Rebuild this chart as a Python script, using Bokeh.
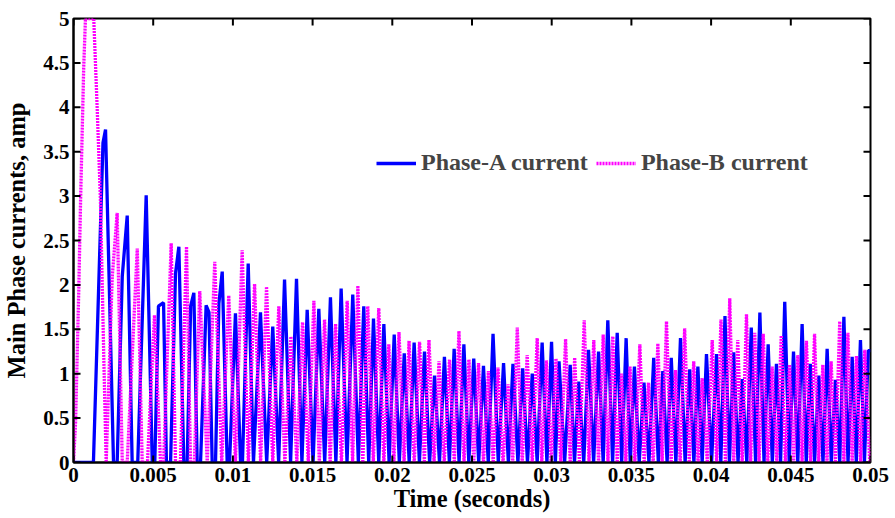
from bokeh.plotting import figure
from bokeh.models import FixedTicker, Range1d, Legend, LegendItem, ColumnDataSource
from bokeh.embed import file_html
from bokeh.resources import INLINE

# ---------------- data ----------------
# Phase-A current: peak (and shoulder) points, and times where the current is zero
a_peak_t = [0.00185, 0.00201, 0.00306, 0.00337, 0.00456, 0.00533, 0.00565, 0.00640, 0.00661, 0.00735,
            0.00755, 0.00832, 0.00850, 0.00912, 0.00933, 0.01016, 0.01096, 0.01173, 0.01250, 0.01324,
            0.01399, 0.01466, 0.01539, 0.01612, 0.01679, 0.01752, 0.01821, 0.01882, 0.01947, 0.02012,
            0.02075, 0.02137, 0.02202, 0.02265, 0.02327, 0.02388, 0.02449, 0.02511, 0.02572, 0.02632,
            0.02698, 0.02757, 0.02818, 0.02878, 0.02940, 0.02999, 0.03046, 0.03116, 0.03170, 0.03231,
            0.03294, 0.03352, 0.03411, 0.03467, 0.03519, 0.03579, 0.03640, 0.03697, 0.03750, 0.03808,
            0.03866, 0.03917, 0.03971, 0.04034, 0.04087, 0.04142, 0.04195, 0.04252, 0.04306, 0.04358,
            0.04410, 0.04462, 0.04517, 0.04571, 0.04622, 0.04676, 0.04728, 0.04780, 0.04833, 0.04885,
            0.04937, 0.04986, 0.05000]
a_peak_i = [3.60, 3.75, 2.10, 2.78, 3.01, 1.76, 1.80, 2.13, 2.43, 1.76,
            1.91, 1.77, 1.69, 1.79, 2.15, 1.68, 2.24, 1.69, 1.53, 2.06,
            2.07, 1.72, 1.73, 1.86, 1.96, 1.89, 1.76, 1.62, 1.56, 1.44,
            1.23, 1.35, 1.25, 0.98, 1.19, 1.28, 1.33, 1.17, 1.09, 1.45,
            1.12, 1.11, 1.06, 1.00, 1.35, 1.36, 1.14, 1.10, 0.91, 1.27,
            1.25, 1.60, 1.46, 1.40, 1.08, 0.90, 1.18, 1.03, 1.18, 1.40,
            1.05, 1.08, 1.22, 1.22, 1.65, 1.24, 0.94, 1.52, 1.69, 1.33,
            1.11, 1.81, 1.25, 1.56, 1.11, 0.98, 1.28, 0.93, 1.64, 1.19,
            1.38, 1.26, 1.26]
a_zero_t = [0.0, 0.00125, 0.00251, 0.00274, 0.00368, 0.00403, 0.00494, 0.00510, 0.00583, 0.00609,
            0.00692, 0.00713, 0.00776, 0.00797, 0.00870, 0.00891, 0.00964, 0.00979, 0.01048, 0.01060,
            0.01129, 0.01212, 0.01287, 0.01362, 0.01433, 0.01503, 0.01576, 0.01646, 0.01716, 0.01787,
            0.01852, 0.01915, 0.01980, 0.02044, 0.02106, 0.02170, 0.02234, 0.02296, 0.02358, 0.02419,
            0.02480, 0.02542, 0.02602, 0.02665, 0.02728, 0.02788, 0.02848, 0.02909, 0.02970, 0.03023,
            0.03081, 0.03143, 0.03201, 0.03263, 0.03323, 0.03382, 0.03439, 0.03493, 0.03549, 0.03610,
            0.03669, 0.03724, 0.03779, 0.03837, 0.03892, 0.03944, 0.04003, 0.04061, 0.04115, 0.04169,
            0.04224, 0.04279, 0.04332, 0.04384, 0.04436, 0.04490, 0.04544, 0.04597, 0.04649, 0.04702,
            0.04754, 0.04807, 0.04859, 0.04911, 0.04962]

# Phase-B current
b_peak_t = [0.00013, 0.00033, 0.00045, 0.00064, 0.00075, 0.00127, 0.00149, 0.00169, 0.00190, 0.00243,
            0.00274, 0.00400, 0.00508, 0.00613, 0.00709,
            0.00792, 0.00886, 0.00974, 0.01058, 0.01136, 0.01211, 0.01288, 0.01364, 0.01437, 0.01508,
            0.01575, 0.01644, 0.01717, 0.01784, 0.01846, 0.01915, 0.01978, 0.02042, 0.02105, 0.02171,
            0.02230, 0.02293, 0.02359, 0.02418, 0.02481, 0.02541, 0.02603, 0.02663, 0.02726, 0.02784,
            0.02846, 0.02909, 0.02967, 0.03027, 0.03087, 0.03144, 0.03204, 0.03264, 0.03323, 0.03383,
            0.03438, 0.03491, 0.03553, 0.03607, 0.03666, 0.03720, 0.03777, 0.03834, 0.03891, 0.03944,
            0.04007, 0.04062, 0.04117, 0.04167, 0.04222, 0.04274, 0.04327, 0.04383, 0.04440, 0.04492,
            0.04544, 0.04598, 0.04649, 0.04701, 0.04753, 0.04807, 0.04858, 0.04912, 0.04964]
b_peak_i = [0.45, 1.94, 3.00, 4.45, 5.00, 5.00, 3.97, 2.96, 1.19, 2.09,
            2.81, 2.41, 1.66, 2.47, 2.43,
            1.93, 2.26, 1.88, 2.39, 2.01, 1.98, 1.76, 1.42, 1.58, 1.82,
            1.61, 1.56, 1.82, 1.99, 1.76, 1.74, 1.33, 1.47, 1.37, 1.36,
            1.38, 1.14, 1.16, 1.48, 1.16, 1.12, 1.03, 1.07, 0.88, 1.52,
            1.21, 1.40, 1.15, 1.17, 1.39, 1.18, 1.60, 1.38, 1.44, 1.42,
            1.00, 1.08, 1.33, 0.90, 1.34, 1.59, 1.04, 1.51, 1.14, 0.95,
            1.38, 1.61, 1.85, 1.38, 1.67, 1.46, 1.45, 1.08, 1.43, 1.10,
            1.21, 1.37, 1.45, 1.10, 1.14, 1.59, 1.46, 1.20, 1.27]
b_zero_t = [0.0, 0.00205, 0.00306, 0.00337, 0.00431, 0.00464, 0.00546, 0.00565, 0.00640, 0.00671,
            0.00734, 0.00758, 0.00839, 0.00930, 0.01016, 0.01097, 0.01174, 0.01250, 0.01326, 0.01401,
            0.01473, 0.01542, 0.01610, 0.01681, 0.01751, 0.01815, 0.01881, 0.01947, 0.02010, 0.02074,
            0.02138, 0.02201, 0.02262, 0.02326, 0.02389, 0.02450, 0.02511, 0.02572, 0.02633, 0.02695,
            0.02755, 0.02815, 0.02878, 0.02938, 0.02997, 0.03057, 0.03116, 0.03174, 0.03234, 0.03294,
            0.03353, 0.03411, 0.03465, 0.03522, 0.03580, 0.03637, 0.03693, 0.03749, 0.03806, 0.03863,
            0.03918, 0.03976, 0.04035, 0.04090, 0.04142, 0.04195, 0.04248, 0.04301, 0.04355, 0.04412,
            0.04466, 0.04518, 0.04571, 0.04624, 0.04675, 0.04727, 0.04780, 0.04833, 0.04885, 0.04938,
            0.04995]

x_range = (0, 0.05)
y_range = (0, 5)
x_ticks = [0, 0.005, 0.01, 0.015, 0.02, 0.025, 0.03, 0.035, 0.04, 0.045, 0.05]
x_tick_labels = ["0", "0.005", "0.01", "0.015", "0.02", "0.025", "0.03", "0.035", "0.04", "0.045", "0.05"]
y_ticks = [0, 0.5, 1, 1.5, 2, 2.5, 3, 3.5, 4, 4.5, 5]
y_tick_labels = ["0", "0.5", "1", "1.5", "2", "2.5", "3", "3.5", "4", "4.5", "5"]

series_names = ["Phase-A current", "Phase-B current"]
x_title = "Time (seconds)"
y_title = "Main Phase currents, amp"


def build(peak_t, peak_i, zero_t):
    pts = list(zip(peak_t, peak_i)) + [(t, 0.0) for t in zero_t]
    pts.sort(key=lambda q: q[0])
    return dict(t=[q[0] for q in pts], i=[q[1] for q in pts])


src_a = ColumnDataSource(build(a_peak_t, a_peak_i, a_zero_t))
src_b = ColumnDataSource(build(b_peak_t, b_peak_i, b_zero_t))

FONT = "Liberation Serif"
W, H = 890, 514
BL, BR, BT, BB = 73, 20, 18, 51

p = figure(width=W, height=H, x_range=Range1d(*x_range), y_range=Range1d(*y_range),
           output_backend="svg", toolbar_location=None,
           min_border_left=BL, min_border_right=BR, min_border_top=BT, min_border_bottom=BB)
p.background_fill_color = "white"
p.border_fill_color = "white"
p.outline_line_color = "black"
p.outline_line_width = 2
p.xgrid.visible = False
p.ygrid.visible = False

ra = p.line("t", "i", source=src_a, line_color="#0000FF", line_width=3.3)
rb = p.line("t", "i", source=src_b, line_color="#FF00FF", line_width=3.3, line_dash="2 1")

# inward tick marks (7 px) on all four edges of the box, placed at the tick values
TICK_PX = 7
dx = TICK_PX * (x_range[1] - x_range[0]) / (W - BL - BR)
dy = TICK_PX * (y_range[1] - y_range[0]) / (H - BT - BB)
nx, ny = len(x_ticks), len(y_ticks)
tick_style = dict(line_color="black", line_width=2)
p.segment(x0=x_ticks, y0=[y_range[0]] * nx, x1=x_ticks, y1=[y_range[0] + dy] * nx, **tick_style)
p.segment(x0=x_ticks, y0=[y_range[1]] * nx, x1=x_ticks, y1=[y_range[1] - dy] * nx, **tick_style)
p.segment(x0=[x_range[0]] * ny, y0=y_ticks, x1=[x_range[0] + dx] * ny, y1=y_ticks, **tick_style)
p.segment(x0=[x_range[1]] * ny, y0=y_ticks, x1=[x_range[1] - dx] * ny, y1=y_ticks, **tick_style)

xa = p.xaxis[0]
ya = p.yaxis[0]
xa.ticker = FixedTicker(ticks=x_ticks)
xa.major_label_overrides = dict(zip(x_ticks, x_tick_labels))
xa.axis_label = x_title
ya.ticker = FixedTicker(ticks=y_ticks)
ya.major_label_overrides = dict(zip(y_ticks, y_tick_labels))
ya.axis_label = y_title

for ax in [xa, ya]:
    ax.axis_line_color = "black"
    ax.axis_line_width = 2
    ax.major_tick_in = 0
    ax.major_tick_out = 0
    ax.major_tick_line_color = None
    ax.minor_tick_line_color = None
    ax.major_label_text_font = FONT
    ax.major_label_text_font_style = "bold"
    ax.major_label_text_color = "black"
    ax.major_label_text_font_size = "21px"
    ax.axis_label_text_font = FONT
    ax.axis_label_text_font_style = "bold"
    ax.axis_label_text_color = "black"
    ax.axis_label_text_font_size = "24.5px"
xa.major_label_standoff = 5
xa.axis_label_standoff = 0
ya.major_label_standoff = 4
ya.axis_label_standoff = 10

legend = Legend(items=[LegendItem(label=series_names[0], renderers=[ra]),
                       LegendItem(label=series_names[1], renderers=[rb])],
                orientation="horizontal", location=(303, 286))
legend.border_line_color = None
legend.background_fill_alpha = 0
legend.label_text_font = FONT
legend.label_text_font_style = "bold"
legend.label_text_font_size = "24px"
legend.glyph_width = 40
legend.glyph_height = 24
legend.label_standoff = 5
legend.spacing = 8
legend.padding = 2
legend.margin = 0
p.add_layout(legend, "center")

open("out.html", "w").write(file_html(p, INLINE))
